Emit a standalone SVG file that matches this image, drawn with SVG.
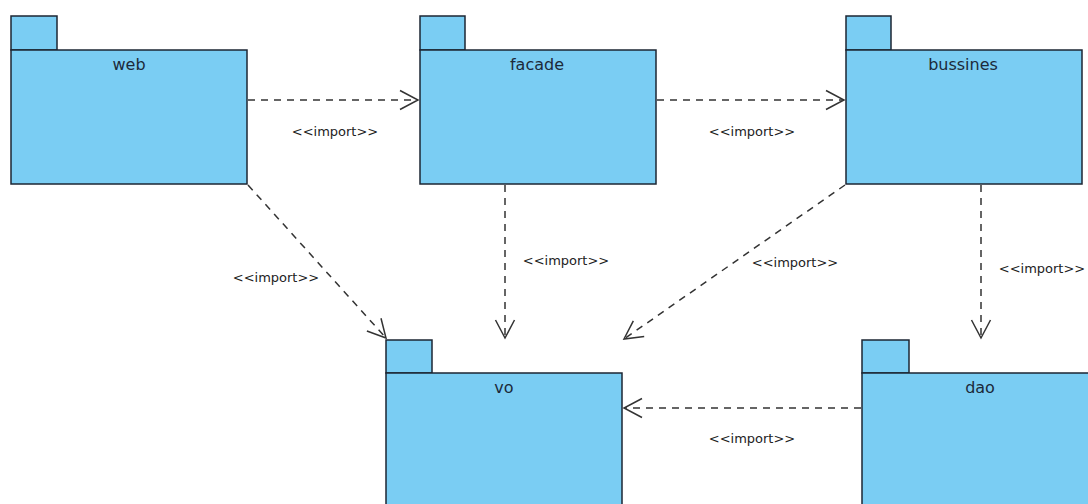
<svg xmlns="http://www.w3.org/2000/svg" width="1088" height="504" viewBox="0 0 1088 504">
  <style>
    .pkg { fill: #7acdf3; stroke: #1c2633; stroke-width: 1.5; }
    .name { font-family: "DejaVu Sans", "Liberation Sans", sans-serif; font-size: 16px; fill: #1c2a3a; text-anchor: middle; }
    .dep { fill: none; stroke: #333; stroke-width: 1.5; stroke-dasharray: 7 6; }
    .lbl { font-family: "DejaVu Sans", "Liberation Sans", sans-serif; font-size: 13px; fill: #222; text-anchor: middle; }
  </style>
  <defs>
    <marker id="open" viewBox="0 0 22 22" refX="20" refY="11" markerWidth="22" markerHeight="22" markerUnits="userSpaceOnUse" orient="auto">
      <path d="M2,1.5 L20,11 L2,20.5" fill="none" stroke="#333" stroke-width="1.5"/>
    </marker>
  </defs>
  <rect width="1088" height="504" fill="#fff"/>

  <!-- packages: tab + body -->
  <g id="web">
    <rect class="pkg" x="11" y="16" width="46" height="34"/>
    <rect class="pkg" x="11" y="50" width="236" height="134"/>
    <text class="name" x="129" y="70">web</text>
  </g>
  <g id="facade">
    <rect class="pkg" x="420" y="16" width="45" height="34"/>
    <rect class="pkg" x="420" y="50" width="236" height="134"/>
    <text class="name" x="537" y="70">facade</text>
  </g>
  <g id="bussines">
    <rect class="pkg" x="846" y="16" width="45" height="34"/>
    <rect class="pkg" x="846" y="50" width="236" height="134"/>
    <text class="name" x="963" y="70">bussines</text>
  </g>
  <g id="vo">
    <rect class="pkg" x="386" y="340" width="46" height="33"/>
    <rect class="pkg" x="386" y="373" width="236" height="140"/>
    <text class="name" x="504" y="393">vo</text>
  </g>
  <g id="dao">
    <rect class="pkg" x="862" y="340" width="47" height="33"/>
    <rect class="pkg" x="862" y="373" width="236" height="140"/>
    <text class="name" x="980" y="393">dao</text>
  </g>

  <!-- import dependencies -->
  <g id="connectors">
    <path class="dep" d="M248,100 L418,100" marker-end="url(#open)"/>
    <text class="lbl" x="335" y="136">&lt;&lt;import&gt;&gt;</text>

    <path class="dep" d="M657,100 L844,100" marker-end="url(#open)"/>
    <text class="lbl" x="752" y="136">&lt;&lt;import&gt;&gt;</text>

    <path class="dep" d="M248,185 L386,338" marker-end="url(#open)"/>
    <text class="lbl" x="276" y="282">&lt;&lt;import&gt;&gt;</text>

    <path class="dep" d="M505,185 L505,338" marker-end="url(#open)"/>
    <text class="lbl" x="566" y="265">&lt;&lt;import&gt;&gt;</text>

    <path class="dep" d="M845,185 L624,339" marker-end="url(#open)"/>
    <text class="lbl" x="795" y="267">&lt;&lt;import&gt;&gt;</text>

    <path class="dep" d="M981,185 L981,338" marker-end="url(#open)"/>
    <text class="lbl" x="1042" y="273">&lt;&lt;import&gt;&gt;</text>

    <path class="dep" d="M861,408 L624,408" marker-end="url(#open)"/>
    <text class="lbl" x="752" y="443">&lt;&lt;import&gt;&gt;</text>
  </g>
</svg>
